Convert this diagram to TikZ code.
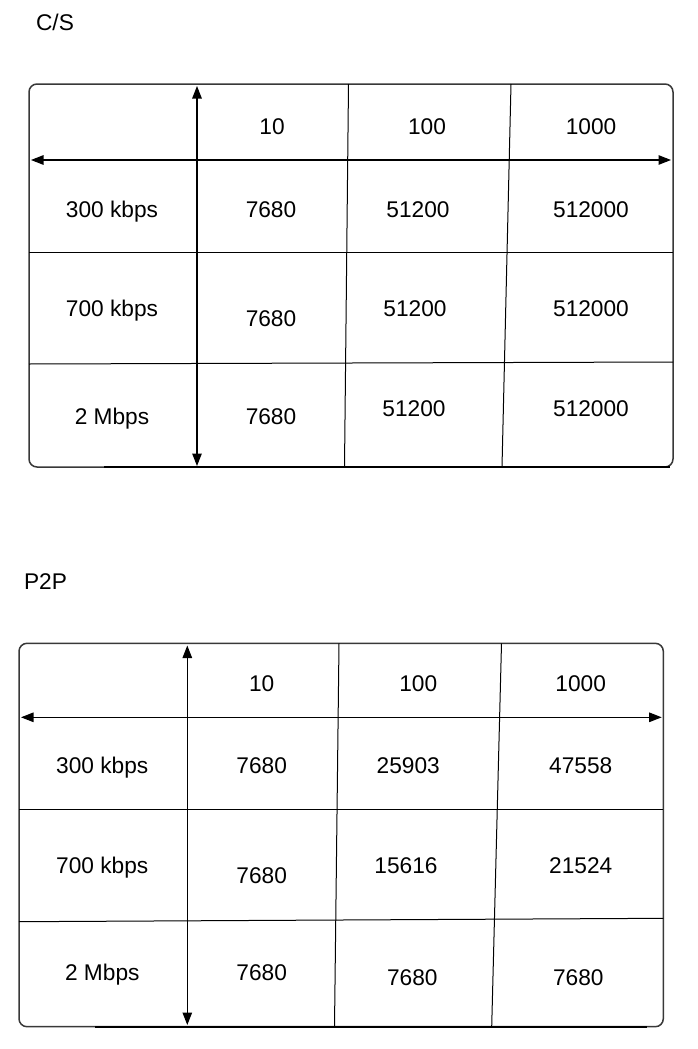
\documentclass[tikz,border=0pt]{standalone}
\usepackage{fontspec}
\setmainfont{Liberation Sans}
\usetikzlibrary{arrows.meta}
\tikzset{
  frame/.style={draw=black!78, line width=1.5pt, rounded corners=8pt},
  rule/.style={draw=black, line width=1pt},
  baseline rule/.style={draw=black, line width=1.8pt},
  axis/.style={{Triangle[length=12.5pt,width=9.5pt]}-{Triangle[length=12.5pt,width=9.5pt]}, draw=black, line width=1.1pt},
  cell/.style={font=\fontsize{22.7}{27}\selectfont, inner sep=0pt, text height=16.3pt, text depth=0pt, anchor=center},
}
\begin{document}
\begin{tikzpicture}[x=1pt,y=-1pt]
\useasboundingbox (0,0) rectangle (697,1049);

% ---------- C/S ----------
\node[cell] (cstitle) at (55,22) {C/S};
\coordinate (csTL) at (29,84);
\coordinate (csBR) at (673,467);
\draw[frame] (csTL) rectangle (csBR);
\coordinate (csB1) at (104,467); \coordinate (csB2) at (670,467);
\draw[baseline rule] (csB1) -- (csB2);
\coordinate (csh1a) at (29,252.7); \coordinate (csh1b) at (673,252.7);
\coordinate (csh2a) at (29,364); \coordinate (csh2b) at (673,362);
\draw[rule] (csh1a) -- (csh1b);
\draw[rule] (csh2a) -- (csh2b);
\coordinate (csv1a) at (348.5,84); \coordinate (csv1b) at (344.5,467);
\coordinate (csv2a) at (511,84); \coordinate (csv2b) at (502,467);
\draw[rule] (csv1a) -- (csv1b);
\draw[rule] (csv2a) -- (csv2b);
\coordinate (csaxT) at (197,86); \coordinate (csaxB) at (197,466);
\coordinate (csaxL) at (31,160); \coordinate (csaxR) at (671,160);
\draw[axis] (csaxT) -- (csaxB);
\draw[axis] (csaxL) -- (csaxR);

\node[cell] (cs-h1) at (272,126.7) {10};
\node[cell] (cs-h2) at (427,126.7) {100};
\node[cell] (cs-h3) at (591,126.7) {1000};
\node[cell] (cs-r1) at (112,209) {300 kbps};
\node[cell] (cs-11) at (271,209) {7680};
\node[cell] (cs-12) at (418,209) {51200};
\node[cell] (cs-13) at (591,209) {512000};
\node[cell] (cs-r2) at (112,308) {700 kbps};
\node[cell] (cs-21) at (271,318) {7680};
\node[cell] (cs-22) at (415,308) {51200};
\node[cell] (cs-23) at (591,308) {512000};
\node[cell] (cs-r3) at (112,416) {2 Mbps};
\node[cell] (cs-31) at (271,416) {7680};
\node[cell] (cs-32) at (414,408) {51200};
\node[cell] (cs-33) at (591,408) {512000};

% ---------- P2P ----------
\node[cell] (pptitle) at (45.5,581.7) {P2P};
\coordinate (ppTL) at (19,643.3);
\coordinate (ppBR) at (663.3,1026.7);
\draw[frame] (ppTL) rectangle (ppBR);
\coordinate (ppB1) at (95,1026.7); \coordinate (ppB2) at (647,1026.7);
\draw[baseline rule] (ppB1) -- (ppB2);
\coordinate (pph1a) at (19,809.5); \coordinate (pph1b) at (663.3,809.5);
\coordinate (pph2a) at (19,921.7); \coordinate (pph2b) at (663.3,918.3);
\draw[rule] (pph1a) -- (pph1b);
\draw[rule] (pph2a) -- (pph2b);
\coordinate (ppv1a) at (339,643.3); \coordinate (ppv1b) at (334.5,1026.7);
\coordinate (ppv2a) at (501.5,643.3); \coordinate (ppv2b) at (491.7,1026.7);
\draw[rule] (ppv1a) -- (ppv1b);
\draw[rule] (ppv2a) -- (ppv2b);
\coordinate (ppaxT) at (187.3,645.5); \coordinate (ppaxB) at (187.3,1025);
\coordinate (ppaxL) at (21,717.3); \coordinate (ppaxR) at (661.7,717.3);
\draw[axis] (ppaxT) -- (ppaxB);
\draw[axis] (ppaxL) -- (ppaxR);

\node[cell] (pp-h1) at (261.7,683.3) {10};
\node[cell] (pp-h2) at (418.3,683.3) {100};
\node[cell] (pp-h3) at (580.7,683.3) {1000};
\node[cell] (pp-r1) at (102.3,765.7) {300 kbps};
\node[cell] (pp-11) at (261.7,765.7) {7680};
\node[cell] (pp-12) at (408.3,765.7) {25903};
\node[cell] (pp-13) at (580.7,765.7) {47558};
\node[cell] (pp-r2) at (102.3,865.7) {700 kbps};
\node[cell] (pp-21) at (261.7,875.7) {7680};
\node[cell] (pp-22) at (406,865.7) {15616};
\node[cell] (pp-23) at (580.7,865.7) {21524};
\node[cell] (pp-r3) at (102.3,972.3) {2 Mbps};
\node[cell] (pp-31) at (261.7,972.3) {7680};
\node[cell] (pp-32) at (412.3,977.3) {7680};
\node[cell] (pp-33) at (578.3,977.3) {7680};
\end{tikzpicture}
\end{document}
